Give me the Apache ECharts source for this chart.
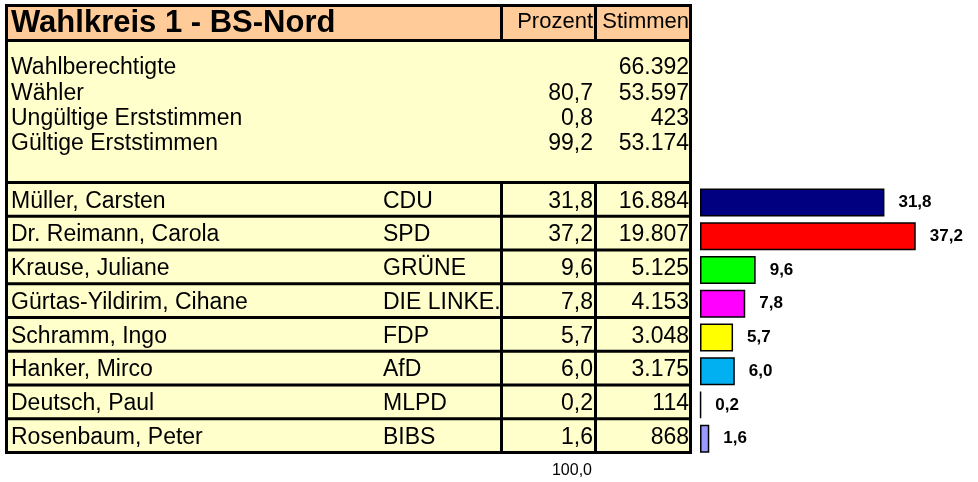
<!DOCTYPE html>
<html>
<head>
<meta charset="utf-8">
<script src="https://cdn.jsdelivr.net/npm/echarts@6/dist/echarts.min.js"></script>
<style>
  html, body { margin: 0; padding: 0; background: #fff; }
  #chart { width: 978px; height: 482px; }
</style>
</head>
<body>
<div id="chart"></div>
<script>
  // data
  var title = 'Wahlkreis 1 - BS-Nord';
  var headCols = ['Prozent', 'Stimmen'];
  var sumLabels = ['Wahlberechtigte', 'Wähler', 'Ungültige Erststimmen', 'Gültige Erststimmen'];
  var sumPercent = [null, 80.7, 0.8, 99.2];
  var sumVotes = [66392, 53597, 423, 53174];
  var names = ['Müller, Carsten', 'Dr. Reimann, Carola', 'Krause, Juliane', 'Gürtas-Yildirim, Cihane',
    'Schramm, Ingo', 'Hanker, Mirco', 'Deutsch, Paul', 'Rosenbaum, Peter'];
  var parties = ['CDU', 'SPD', 'GRÜNE', 'DIE LINKE.', 'FDP', 'AfD', 'MLPD', 'BIBS'];
  var percent = [31.8, 37.2, 9.6, 7.8, 5.7, 6.0, 0.2, 1.6];
  var votes = [16884, 19807, 5125, 4153, 3048, 3175, 114, 868];
  var partyColors = ['#000080', '#FF0000', '#00FF00', '#FF00FF', '#FFFF00', '#00B0F0', '#000000', '#9999FF'];
  var totalPercent = 100.0;

  function fmtPct(v) { return v.toFixed(1).replace('.', ','); }
  function fmtNum(v) { return String(v).replace(/\B(?=(\d{3})+(?!\d))/g, '.'); }

  // table layout
  var FONT = '"Liberation Sans", Arial, sans-serif';
  var L = 6.5, R = 690.5, C1 = 501.5, C2 = 595.5;
  var T = 5.5, H1 = 40.5, H2 = 182.5, rowH = 33.75;
  var B = H2 + names.length * rowH;
  var barShift = 3;

  var chart = echarts.init(document.getElementById('chart'));

  chart.setOption({
    animation: false,
    grid: {
      left: 700,
      top: H2 + barShift,
      width: 232,
      height: B - H2
    },
    xAxis: {
      type: 'value',
      min: 0,
      max: 40,
      show: false
    },
    yAxis: {
      type: 'category',
      data: parties,
      inverse: true,
      show: false
    },
    series: [{
      type: 'bar',
      barWidth: 28,
      data: percent.map(function (v, i) {
        return { value: v, itemStyle: { color: partyColors[i] } };
      }),
      itemStyle: {
        borderColor: '#000',
        borderWidth: 1.5
      },
      label: {
        show: true,
        position: 'right',
        distance: 14,
        color: '#000',
        fontFamily: FONT,
        fontWeight: 'bold',
        fontSize: 17,
        formatter: function (p) { return fmtPct(p.value); }
      }
    }]
  });

  function txt(text, x, y, opt) {
    opt = opt || {};
    return {
      type: 'text',
      z: 10,
      style: {
        text: text,
        x: x,
        y: y,
        fill: '#000',
        fontFamily: FONT,
        fontSize: opt.size || 23,
        fontWeight: opt.bold ? 'bold' : 'normal',
        align: opt.align || 'left',
        textAlign: opt.align || 'left',
        verticalAlign: 'middle',
        textVerticalAlign: 'middle'
      }
    };
  }
  function line(x1, y1, x2, y2) {
    return {
      type: 'line',
      z: 5,
      shape: { x1: x1, y1: y1, x2: x2, y2: y2 },
      style: { stroke: '#000', lineWidth: 3 }
    };
  }

  var els = [];
  // backgrounds
  els.push({ type: 'rect', z: 1, shape: { x: L, y: T, width: R - L, height: H1 - T }, style: { fill: '#FFCC99' } });
  els.push({ type: 'rect', z: 1, shape: { x: L, y: H1, width: R - L, height: B - H1 }, style: { fill: '#FFFFCC' } });
  // outer border
  els.push({ type: 'rect', z: 6, shape: { x: L, y: T, width: R - L, height: B - T }, style: { fill: null, stroke: '#000', lineWidth: 3 } });
  els.push(line(L, H1, R, H1));
  els.push(line(C1, T, C1, H1));
  els.push(line(C2, T, C2, H1));

  // header
  els.push(txt(title, 11, 23, { bold: true, size: 31 }));
  els.push(txt(headCols[0], 593, 22, { align: 'right', size: 22 }));
  els.push(txt(headCols[1], 689, 22, { align: 'right', size: 22 }));

  // summary block
  sumLabels.forEach(function (s, i) {
    var y = 68 + i * 25.3;
    els.push(txt(s, 11, y));
    if (sumPercent[i] != null) els.push(txt(fmtPct(sumPercent[i]), 593, y, { align: 'right' }));
    els.push(txt(fmtNum(sumVotes[i]), 689, y, { align: 'right' }));
  });

  // candidate rows, positioned by the category axis
  els.push(line(C1, H2, C1, B));
  els.push(line(C2, H2, C2, B));
  names.forEach(function (n, i) {
    var yc = chart.convertToPixel({ yAxisIndex: 0 }, parties[i]) - barShift;
    els.push(line(L, yc - rowH / 2, R, yc - rowH / 2));
    els.push(txt(n, 11, yc + 2));
    els.push(txt(parties[i], 383, yc + 2));
    els.push(txt(fmtPct(percent[i]), 593, yc + 2, { align: 'right' }));
    els.push(txt(fmtNum(votes[i]), 689, yc + 2, { align: 'right' }));
  });

  // total under the percent column
  els.push(txt(fmtPct(totalPercent), 592, 471, { align: 'right', size: 16 }));

  chart.setOption({ graphic: { elements: els } });
</script>
</body>
</html>
